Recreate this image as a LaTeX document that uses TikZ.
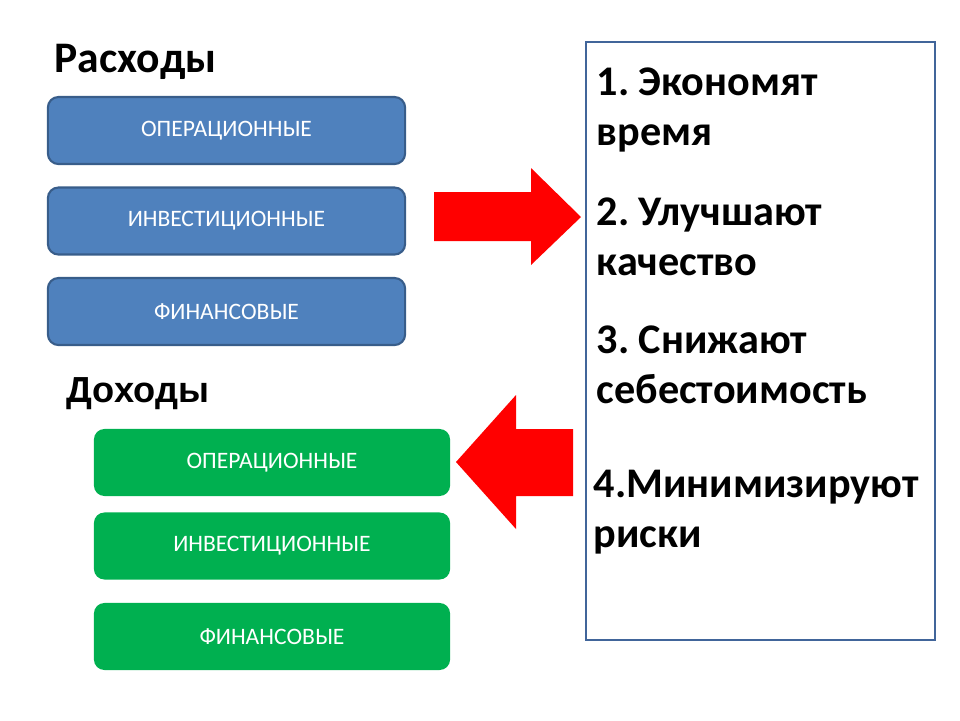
\documentclass[tikz,border=0pt]{standalone}
\usepackage{fontspec}
\setmainfont{Carlito}
\newfontfamily\arialbold{Liberation Sans}
\usetikzlibrary{positioning}

\definecolor{costblue}{HTML}{4F81BD}
\definecolor{costedge}{HTML}{385D8A}
\definecolor{incgreen}{HTML}{00B050}
\definecolor{panelblue}{HTML}{41659A}

\begin{document}
\frenchspacing
\begin{tikzpicture}[
  x=0.01cm, y=-0.01cm,
  cost/.style    = {draw=costedge, line width=0.6pt, fill=costblue,
                    rounded corners=3pt, minimum width=3.57cm,
                    minimum height=0.67cm, text=white,
                    font=\fontsize{6.7}{8}\selectfont},
  income/.style  = {fill=incgreen, rounded corners=3pt,
                    minimum width=3.56cm, minimum height=0.67cm,
                    text=white, font=\fontsize{6.7}{8}\selectfont},
  heading/.style = {anchor=base west, inner sep=0pt,
                    font=\bfseries\fontsize{12.4}{14}\selectfont},
  item/.style    = {anchor=base west, inner sep=0pt, align=left,
                    font=\bfseries\fontsize{12}{14.2}\selectfont},
                    % base of a two-line item is its second line
  bigarrow/.style = {fill=red},
]
  \useasboundingbox (0,0) rectangle (960,720);

  % expenses
  \node[heading] (costs) at (54,72) {Расходы};
  \node[cost] (cost_op)  at (226.5,130.5) {ОПЕРАЦИОННЫЕ};
  \node[cost] (cost_inv) at (226.5,221)   {ИНВЕСТИЦИОННЫЕ};
  \node[cost] (cost_fin) at (226.5,311.5) {ФИНАНСОВЫЕ};

  % income
  \node[heading, font=\arialbold\bfseries\fontsize{10.3}{12}\selectfont]
    (incomes) at (66,402) {Доходы};
  \node[income] (inc_op)  at (272,462.5) {ОПЕРАЦИОННЫЕ};
  \node[income] (inc_inv) at (272,546)   {ИНВЕСТИЦИОННЫЕ};
  \node[income] (inc_fin) at (272,636.5) {ФИНАНСОВЫЕ};

  % the list of effects
  \draw[panelblue, line width=0.6pt] (586,42) rectangle (935,640);
  \node[item] (eff1) at (596,145) {1. Экономят\\время};
  \node[item] (eff2) at (596,275) {2. Улучшают\\качество};
  \node[item] (eff3) at (596,403) {3. Снижают\\себестоимость};
  \node[item] (eff4) at (593,547) {4.Минимизируют\\риски};

  % block arrows
  \fill[bigarrow] (434,192) -- (531,192) -- (531,168) -- (581,217)
    -- (531,265) -- (531,241) -- (434,241) -- cycle;
  \fill[bigarrow] (573,429) -- (516,429) -- (516,395) -- (456,462)
    -- (516,529) -- (516,496) -- (573,496) -- cycle;
\end{tikzpicture}
\end{document}
